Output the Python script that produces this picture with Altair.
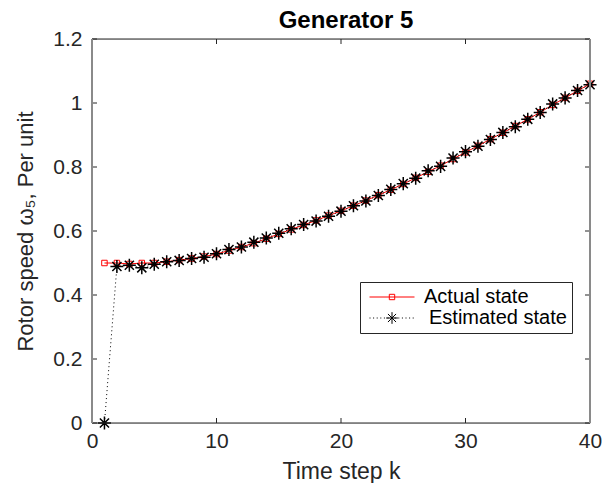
import altair as alt
import pandas as pd

# ---------------- data ----------------
steps = list(range(1, 41))
actual = [0.500, 0.500, 0.497, 0.500, 0.500, 0.504, 0.509, 0.514, 0.520, 0.528,
          0.539, 0.550, 0.562, 0.576, 0.591, 0.605, 0.619, 0.633, 0.648, 0.663,
          0.679, 0.695, 0.712, 0.729, 0.747, 0.766, 0.785, 0.804, 0.825, 0.846,
          0.866, 0.887, 0.907, 0.928, 0.949, 0.971, 0.994, 1.016, 1.038, 1.060]
estimated = [0.000, 0.489, 0.493, 0.485, 0.496, 0.504, 0.508, 0.514, 0.518, 0.529,
             0.542, 0.550, 0.565, 0.578, 0.593, 0.607, 0.620, 0.631, 0.646, 0.662,
             0.679, 0.694, 0.711, 0.730, 0.748, 0.765, 0.788, 0.802, 0.828, 0.848,
             0.865, 0.886, 0.908, 0.926, 0.949, 0.970, 0.997, 1.016, 1.039, 1.057]
x_ticks = [0, 10, 20, 30, 40]
y_ticks = [0, 0.2, 0.4, 0.6, 0.8, 1.0, 1.2]
series_names = ["Actual state", "\u200b\u2005Estimated state"]
chart_title = "Generator 5"

# ---------------- style ----------------
W, H = 498, 384
FONT = "Liberation Sans"
AX = "#262626"
TICK_LEN = 5

STAR = "M-1,0H1M0,-1V1M-0.7,-0.7L0.7,0.7M-0.7,0.7L0.7,-0.7"
# legend symbols (line + marker), normalised to [-1, 1] over the symbol width
ACT_PATH = "M-1,0H1M-0.12,-0.12H0.12V0.12H-0.12Z"
dots = "".join("M%.3f,0h0.045" % (-1 + i * 0.16) for i in range(13))
EST_PATH = dots + "M-0.26,0H0.26M0,-0.26V0.26M-0.18,-0.18L0.18,0.18M-0.18,0.18L0.18,-0.18"

df = pd.DataFrame({"k": steps, "actual": actual, "estimated": estimated})
xt = pd.DataFrame({"v": x_ticks})
yt = pd.DataFrame({"v": y_ticks})
one = pd.DataFrame({"a": [0]})
legdf = pd.DataFrame({"series": series_names})

xs = alt.Scale(domain=[0, 40], nice=False, zero=False)
ys = alt.Scale(domain=[0, 1.2], nice=False, zero=False)

x_axis = alt.Axis(values=x_ticks, title="Time step k", ticks=False, domain=False, grid=False,
                  labelFlush=False, labelOverlap=False,
                  labelFont=FONT, labelFontSize=21, labelColor=AX, labelPadding=7,
                  titleFont=FONT, titleFontSize=23, titleColor=AX, titleFontWeight="normal",
                  titleBaseline="alphabetic", titleY=55, titleX=W / 2)
y_axis = alt.Axis(values=y_ticks, title="Rotor speed \u03c9\u2085, Per unit", format="~g",
                  ticks=False, domain=False, grid=False,
                  labelFlush=False, labelOverlap=False,
                  labelFont=FONT, labelFontSize=21, labelColor=AX, labelPadding=10,
                  titleFont=FONT, titleFontSize=22, titleColor=AX, titleFontWeight="normal",
                  titleBaseline="alphabetic", titleX=-60, titleY=H / 2, titleAngle=-90)

X = alt.X("k:Q", scale=xs, axis=x_axis)
Ya = alt.Y("actual:Q", scale=ys, axis=y_axis)
Ye = alt.Y("estimated:Q", scale=ys, axis=y_axis)

act_line = alt.Chart(df).mark_line(color="red", strokeWidth=1).encode(x=X, y=Ya)
act_pts = alt.Chart(df).mark_point(shape="square", size=30, filled=False, color="red",
                                   strokeWidth=1, opacity=1).encode(x=X, y=Ya)
est_line = alt.Chart(df).mark_line(color="black", strokeWidth=1, strokeDash=[1, 3]).encode(x=X, y=Ye)
est_pts = alt.Chart(df).mark_point(shape=STAR, size=170, filled=False, color="black",
                                   strokeWidth=1.5, opacity=1).encode(x=X, y=Ye)

leg = alt.Legend(title=None, orient="none", legendX=268, legendY=243,
                 strokeColor=AX, fillColor="white", padding=5, rowPadding=1,
                 labelFont=FONT, labelFontSize=20, labelColor="black", labelOffset=9,
                 symbolSize=2025, symbolStrokeWidth=1, symbolOpacity=1,
                 symbolOffset=4, clipHeight=20)
legend_layer = alt.Chart(legdf).mark_point(filled=False, opacity=0).encode(
    x=alt.value(0), y=alt.value(0),
    stroke=alt.Stroke("series:N", scale=alt.Scale(domain=series_names, range=["red", "black"]), legend=leg),
    shape=alt.Shape("series:N", scale=alt.Scale(domain=series_names, range=[ACT_PATH, EST_PATH]), legend=leg),
)

# title as text above the plot
title_layer = alt.Chart(one).mark_text(
    text=chart_title, font=FONT, fontSize=24, fontWeight="bold", color="black",
    align="center", baseline="alphabetic").encode(x=alt.value(W / 2 + 5), y=alt.value(-11))

# frame
frame_top = alt.Chart(one).mark_rule(color=AX, strokeWidth=1).encode(
    x=alt.value(0), x2=alt.value(W), y=alt.value(0))
frame_bottom = alt.Chart(one).mark_rule(color=AX, strokeWidth=1).encode(
    x=alt.value(0), x2=alt.value(W), y=alt.value(H))
frame_left = alt.Chart(one).mark_rule(color="#8a8a8a", strokeWidth=2).encode(
    x=alt.value(0), y=alt.value(0), y2=alt.value(H))
frame_right = alt.Chart(one).mark_rule(color="#8a8a8a", strokeWidth=2).encode(
    x=alt.value(W), y=alt.value(0), y2=alt.value(H))

# inward ticks
XT = alt.X("v:Q", scale=xs, axis=x_axis)
YT = alt.Y("v:Q", scale=ys, axis=y_axis)
tick_b = alt.Chart(xt).mark_rule(color=AX).encode(x=XT, y=alt.value(H), y2=alt.value(H - TICK_LEN))
tick_t = alt.Chart(xt).mark_rule(color=AX).encode(x=XT, y=alt.value(0), y2=alt.value(TICK_LEN))
tick_l = alt.Chart(yt).mark_rule(color=AX).encode(y=YT, x=alt.value(0), x2=alt.value(TICK_LEN))
tick_r = alt.Chart(yt).mark_rule(color=AX).encode(y=YT, x=alt.value(W - TICK_LEN), x2=alt.value(W))

chart = alt.layer(
    tick_b, tick_t, tick_l, tick_r,
    act_line, act_pts, est_line, est_pts, legend_layer,
    frame_top, frame_bottom, frame_left, frame_right, title_layer,
).properties(
    width=W, height=H,
    autosize=alt.AutoSizeParams(type="none"),
    padding={"left": 92, "top": 39, "right": 24, "bottom": 60},
).configure_view(stroke=None).configure(background="white")

chart.save("out.html", embed_options={"renderer": "svg", "actions": False})
